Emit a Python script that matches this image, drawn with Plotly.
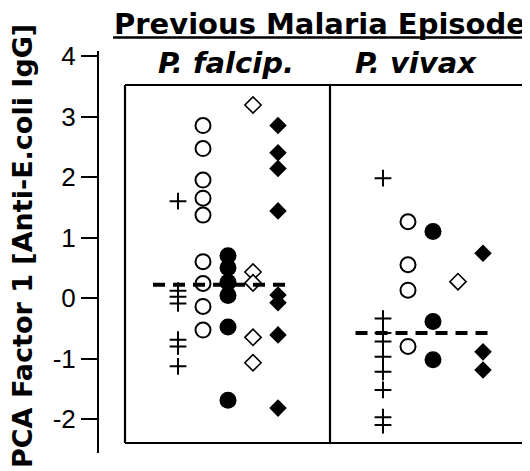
import plotly.graph_objects as go

# ---------------- data ----------------
groups = ["P. falcip.", "P. vivax"]
marker_kinds = ["plus", "open circle", "filled circle", "open diamond", "filled diamond"]

falcip_plus = [1.6, 0.12, 0.02, -0.09, -0.69, -0.80, -1.13]
falcip_open_circle = [2.85, 2.47, 1.95, 1.65, 1.37, 0.60, 0.24, -0.14, -0.53]
falcip_filled_circle = [0.70, 0.50, 0.26, 0.04, -0.48, -1.69]
falcip_open_diamond = [3.19, 0.43, 0.25, -0.65, -1.07]
falcip_filled_diamond = [2.85, 2.40, 2.14, 1.44, 0.05, -0.08, -0.61, -1.82]

vivax_plus = [1.98, -0.34, -0.58, -0.72, -0.97, -1.22, -1.52, -1.97, -2.10]
vivax_open_circle = [1.26, 0.55, 0.13, -0.80]
vivax_filled_circle = [1.10, -0.39, -1.02]
vivax_open_diamond = [0.27]
vivax_filled_diamond = [0.74, -0.89, -1.19]

group_means = [0.22, -0.58]

y_ticks = [-2, -1, 0, 1, 2, 3, 4]
y_tick_labels = ["-2", "-1", "0", "1", "2", "3", "4"]

title_text = "Previous Malaria Episode"
y_title = "PCA Factor 1 [Anti-E.coli IgG]"

# ---------------- layout constants ----------------
W, H = 530, 471
OFF = 8.0  # page body margin: figure pixel = screen pixel - OFF

group_center = [0.0, 8.2]
kind_offset = [-2, -1, 0, 1, 2]
styles = {
    "plus": dict(symbol="cross-thin", size=12, color="black",
                 line=dict(color="black", width=2)),
    "open circle": dict(symbol="circle", size=15, color="white",
                        line=dict(color="black", width=2)),
    "filled circle": dict(symbol="circle", size=17, color="black",
                          line=dict(color="black", width=0)),
    "open diamond": dict(symbol="diamond", size=12.5, color="white",
                         line=dict(color="black", width=1.6)),
    "filled diamond": dict(symbol="diamond", size=13.5, color="black",
                           line=dict(color="black", width=0)),
}

data = {
    ("P. falcip.", "plus"): falcip_plus,
    ("P. falcip.", "open circle"): falcip_open_circle,
    ("P. falcip.", "filled circle"): falcip_filled_circle,
    ("P. falcip.", "open diamond"): falcip_open_diamond,
    ("P. falcip.", "filled diamond"): falcip_filled_diamond,
    ("P. vivax", "plus"): vivax_plus,
    ("P. vivax", "open circle"): vivax_open_circle,
    ("P. vivax", "filled circle"): vivax_filled_circle,
    ("P. vivax", "open diamond"): vivax_open_diamond,
    ("P. vivax", "filled diamond"): vivax_filled_diamond,
}

fig = go.Figure()
for gi, g in enumerate(groups):
    for ki, k in enumerate(marker_kinds):
        ys = data[(g, k)]
        xs = [group_center[gi] + kind_offset[ki]] * len(ys)
        fig.add_trace(go.Scatter(x=xs, y=ys, mode="markers", marker=styles[k],
                                 showlegend=False, hoverinfo="skip"))

# mean dashed lines
mean_span = [(-3.0, 2.36), (-3.1, 2.3)]
for gi, m in enumerate(group_means):
    a, b = mean_span[gi]
    fig.add_trace(go.Scatter(x=[group_center[gi] + a, group_center[gi] + b], y=[m, m],
                             mode="lines", line=dict(color="black", width=4, dash="12px,8px"),
                             showlegend=False, hoverinfo="skip"))

def fx(s):  # screen x -> figure pixel x
    return s - OFF

def fy(s):  # screen y -> figure pixel y
    return s - OFF

px_per_x = 25.0
x0_px = fx(228.0)
px_per_y = 60.5
y0_px = fy(298.0)
y_top_px, y_bot_px = fy(51.0), fy(452.5)
y_range = [(y0_px - y_bot_px) / px_per_y, (y0_px - y_top_px) / px_per_y]

x_left_px, x_right_px = fx(115.0), float(W)
x_range = [(x_left_px - x0_px) / px_per_x, (x_right_px - x0_px) / px_per_x]

box_top = (y0_px - fy(85)) / px_per_y
box_bot = (y0_px - fy(443)) / px_per_y
box_left = (fx(125) - x0_px) / px_per_x
box_mid = (fx(330) - x0_px) / px_per_x
box_right = x_range[1] + 1

line = dict(color="black", width=2.2)
ul_y = 1 - fy(37.5) / H
shapes = [
    dict(type="line", xref="x", yref="y", x0=box_left, x1=box_right, y0=box_top, y1=box_top, line=line),
    dict(type="line", xref="x", yref="y", x0=box_left, x1=box_right, y0=box_bot, y1=box_bot, line=line),
    dict(type="line", xref="x", yref="y", x0=box_left, x1=box_left, y0=box_bot, y1=box_top, line=line),
    dict(type="line", xref="x", yref="y", x0=box_mid, x1=box_mid, y0=box_bot, y1=box_top, line=line),
    dict(type="line", xref="paper", yref="paper", x0=fx(113) / W, x1=fx(527) / W,
         y0=ul_y, y1=ul_y, line=dict(color="black", width=2.5)),
]

title_font = dict(family="DejaVu Sans", size=29, color="black")
sub_font = dict(family="DejaVu Sans", size=29, color="black")
ytitle_font = dict(family="DejaVu Sans", size=27, color="black")
annotations = [
    dict(text="<b>" + title_text + "</b>", x=fx(320) / W, y=1 - fy(24) / H, xref="paper", yref="paper",
         xanchor="center", yanchor="middle", showarrow=False, font=title_font),
    dict(text="<b><i>" + groups[0] + "</i></b>", x=fx(226) / W, y=1 - fy(63) / H, xref="paper", yref="paper",
         xanchor="center", yanchor="middle", showarrow=False, font=sub_font),
    dict(text="<b><i>" + groups[1] + "</i></b>", x=fx(416) / W, y=1 - fy(63) / H, xref="paper", yref="paper",
         xanchor="center", yanchor="middle", showarrow=False, font=sub_font),
    dict(text="<b>" + y_title + "</b>", x=fx(22) / W, y=1 - fy(246) / H, xref="paper", yref="paper",
         xanchor="center", yanchor="middle", textangle=-90, showarrow=False, font=ytitle_font),
]

fig.update_layout(
    template="none",
    width=W, height=H,
    margin=dict(l=0, r=0, t=0, b=0, pad=0, autoexpand=False),
    paper_bgcolor="white", plot_bgcolor="white",
    xaxis=dict(range=x_range, domain=[x_left_px / W, x_right_px / W], visible=False,
               automargin=False),
    yaxis=dict(range=y_range, domain=[1 - y_bot_px / H, 1 - y_top_px / H],
               anchor="free", position=fx(98) / W, automargin=False,
               showline=True, linecolor="black", linewidth=2,
               ticks="outside", ticklen=16, tickwidth=2, tickcolor="black",
               tickvals=y_ticks, ticktext=y_tick_labels,
               tickfont=dict(family="Liberation Sans", size=26, color="black"),
               showgrid=False, zeroline=False),
    shapes=shapes,
    annotations=annotations,
)

fig.write_html("out.html")
